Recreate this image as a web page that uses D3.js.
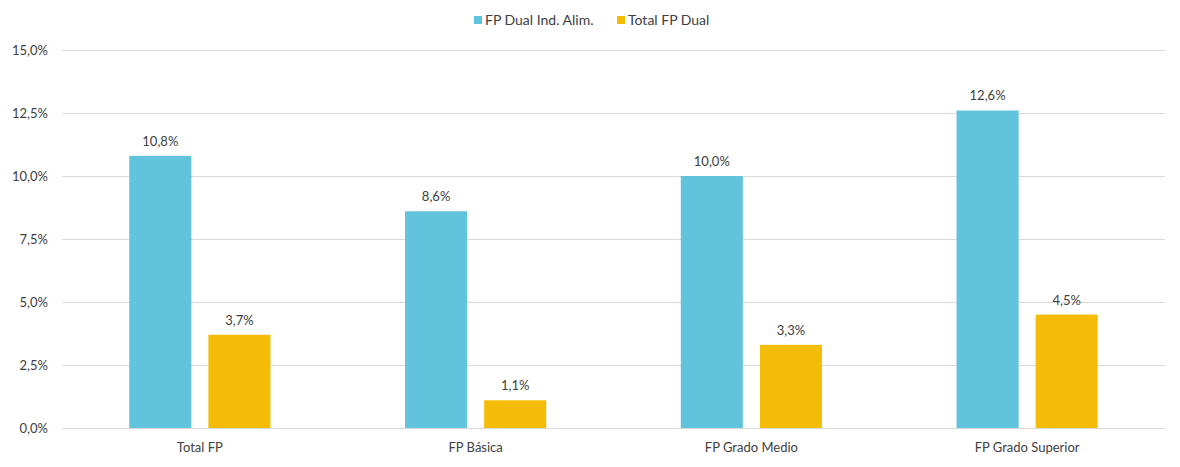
<!DOCTYPE html>
<html>
<head>
<meta charset="utf-8">
<script src="https://cdn.jsdelivr.net/npm/d3@7"></script>
<style>
  body { margin: 0; background: #fff; }
  svg text { font-family: Lato, "Open Sans", sans-serif; fill: #404040; }
</style>
</head>
<body>
<svg id="chart" width="1180" height="467"></svg>
<script>
// data
const categories = ['Total FP', 'FP Básica', 'FP Grado Medio', 'FP Grado Superior'];
const seriesNames = ['FP Dual Ind. Alim.', 'Total FP Dual'];
const dualAlim = [10.8, 8.6, 10.0, 12.6];
const totalDual = [3.7, 1.1, 3.3, 4.5];
const yTicks = [0, 2.5, 5, 7.5, 10, 12.5, 15];

const colors = ['#62c3dc', '#f5bc07'];
const values = [dualAlim, totalDual];

const svg = d3.select('#chart'),
  margin = { top: 50, right: 15, bottom: 39, left: 62 },
  width = +svg.attr('width') - margin.left - margin.right,
  height = +svg.attr('height') - margin.top - margin.bottom;

const g = svg.append('g')
  .attr('transform', 'translate(' + margin.left + ',' + margin.top + ')');

const fmt = v => d3.format('.1f')(v).replace('.', ',') + '%';

const x0 = d3.scaleBand()
  .domain(categories)
  .range([0, width])
  .paddingInner(0.488)
  .paddingOuter(0.244);

const x1 = d3.scaleBand()
  .domain(seriesNames)
  .range([0, x0.bandwidth()])
  .paddingInner(0.215);

const y = d3.scaleLinear().domain([0, 15]).range([height, 0]);

// gridlines
g.selectAll('.grid')
  .data(yTicks)
  .enter()
  .append('line')
  .attr('x1', 0)
  .attr('x2', width)
  .attr('y1', d => Math.round(y(d)) + 0.5)
  .attr('y2', d => Math.round(y(d)) + 0.5)
  .attr('stroke', '#d9d9d9')
  .attr('stroke-width', 1);

// y labels
g.selectAll('.ylab')
  .data(yTicks)
  .enter()
  .append('text')
  .attr('x', -14)
  .attr('y', d => y(d))
  .attr('dy', '0.35em')
  .attr('text-anchor', 'end')
  .style('font-size', '13px')
  .text(fmt);

// bars
const groups = g.selectAll('.cat')
  .data(categories)
  .enter()
  .append('g')
  .attr('transform', d => 'translate(' + x0(d) + ',0)');

groups.each(function (cat, ci) {
  const sel = d3.select(this);
  const rows = seriesNames.map((s, si) => ({ s: s, si: si, v: values[si][ci] }));
  sel.selectAll('rect')
    .data(rows)
    .enter()
    .append('rect')
    .attr('x', d => x1(d.s))
    .attr('width', x1.bandwidth())
    .attr('y', d => y(d.v))
    .attr('height', d => y(0) - y(d.v))
    .attr('fill', d => colors[d.si]);
  sel.selectAll('text')
    .data(rows)
    .enter()
    .append('text')
    .attr('x', d => x1(d.s) + x1.bandwidth() / 2)
    .attr('y', d => y(d.v) - 10)
    .attr('text-anchor', 'middle')
    .style('font-size', '13px')
    .text(d => fmt(d.v));
});

// x labels
g.selectAll('.xlab')
  .data(categories)
  .enter()
  .append('text')
  .attr('x', d => x0(d) + x0.bandwidth() / 2)
  .attr('y', height + 24)
  .attr('text-anchor', 'middle')
  .style('font-size', '13px')
  .text(d => d);

// legend
const legendX = [474, 617];
const legend = svg.selectAll('.legend')
  .data(seriesNames)
  .enter()
  .append('g')
  .attr('transform', (d, i) => 'translate(' + legendX[i] + ',16)');

legend.append('rect')
  .attr('width', 8)
  .attr('height', 8)
  .attr('fill', (d, i) => colors[i]);

legend.append('text')
  .attr('x', 11)
  .attr('y', 4)
  .attr('dy', '0.35em')
  .style('font-size', '14px')
  .text(d => d);
</script>
</body>
</html>
